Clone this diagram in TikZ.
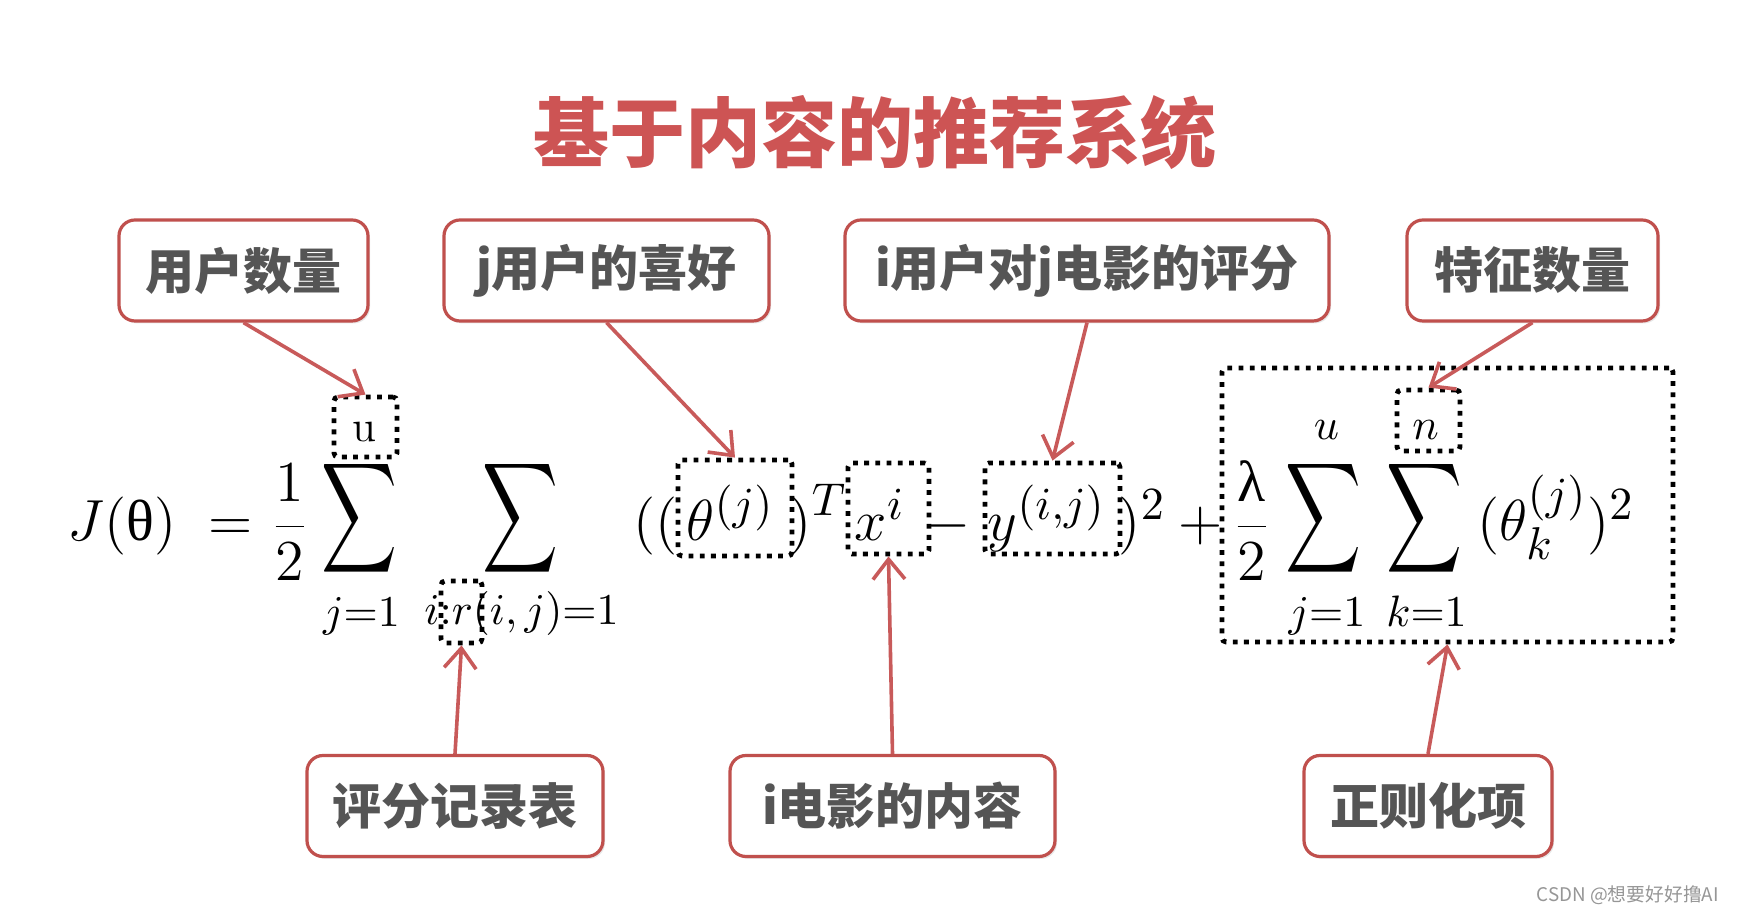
\RequirePackage{fix-cm}
\documentclass[tikz,border=0pt]{standalone}
\usepackage{graphicx}
\usepackage{fontspec}
\newfontfamily\cjk{Noto Sans CJK SC}
\newfontfamily\grk{Liberation Serif}
\usetikzlibrary{arrows.meta, shadows}
\DeclareMathSizes{14.5}{14.5}{11.5}{9}
\definecolor{titlered}{RGB}{205,84,84}
\definecolor{boxred}{RGB}{192,80,77}
\definecolor{arrowred}{RGB}{200,90,90}
\definecolor{labelgray}{RGB}{85,85,85}
\definecolor{markgray}{RGB}{150,150,150}

\begin{document}
\begin{tikzpicture}[x=0.25pt, y=-0.25pt,
    labelbox/.style={draw=boxred, line width=0.8pt, rounded corners=4pt, fill=white,
      drop shadow={shadow xshift=0.5pt, shadow yshift=-0.6pt, opacity=0.18},
      text=labelgray, font=\cjk\bfseries\fontsize{12.25}{14}\selectfont,
      minimum height=101*\px, inner xsep=2pt},
    dotbox/.style={draw, line width=1.2pt, dash pattern=on 1.2pt off 1.6pt, rounded corners=1pt, inner sep=0pt},
    pointer/.style={draw=arrowred, line width=0.9pt, -{Straight Barb[length=5pt,width=8pt]}},
    frm/.style={inner sep=0pt, font=\fontsize{14.5}{17}\selectfont},
    lim/.style={inner sep=0pt, font=\fontsize{11}{13}\selectfont}]
    % one pixel of the reference
    \def\px{0.25pt}
    % page
    \fill[white] (0,0) rectangle (1748,918);
    \useasboundingbox (0,0) rectangle (1748,918);
    % title
    \node[text=titlered, font=\cjk\bfseries\fontsize{19}{23}\selectfont] (title) at (875,133) {基于内容的推荐系统};
    % label boxes above and below the formula
    \foreach \nm/\cx/\bw/\txt in {users/243.5/249/用户数量, likes/606.5/325/j用户的喜好, score/1087/484/i用户对j电影的评分, feats/1532.5/251/特征数量}
        \node[labelbox, minimum width=\bw*\px] (\nm) at (\cx,270.5) {\txt};
    \foreach \nm/\cx/\bw/\txt in {record/455/296/评分记录表, movie/892.5/325/i电影的内容, reg/1428/248/正则化项}
        \node[labelbox, minimum width=\bw*\px] (\nm) at (\cx,806) {\txt};
    % formula, main line
    \node[frm, anchor=base west] (lhs) at (67,541) {$J(\mbox{\grk θ})\;=$};
    \node[frm, anchor=base west] (half) at (270,541) {$\displaystyle\frac{1}{2}$};
    \foreach \nm/\cx in {sumj/359, sumi/520, sumjj/1323, sumk/1424.5}
        \node[frm] (\nm) at (\cx,518.5) {\resizebox*{19pt}{30.75pt}{$\displaystyle\sum$}};
    \node[frm, anchor=base west] (open) at (633,541) {$(\bigl($};
    \node[frm, anchor=base west] (theta) at (686,541) {$\theta^{(j)}$};
    \node[frm, anchor=base west] (close) at (789,541) {$\bigr)^{T}$};
    \node[frm, anchor=base west] (xi) at (854,541) {$x^{i}$};
    \node[frm, anchor=base] (minus) at (948,541) {$-$};
    \node[frm, anchor=base west] (yij) at (987,541) {$y^{(i,j)}$};
    \node[frm, anchor=base west] (sq) at (1118,541) {$)^{2}+{}$};
    \node[frm, anchor=base west] (lam) at (1232,541) {$\displaystyle\frac{\mbox{\grk λ}}{2}$};
    \node[frm, anchor=base west] (thk) at (1477,541) {$(\theta_k^{(j)})^{2}$};
    % limits of the sums
    \node[lim, anchor=base] (uup) at (364,442) {$\mathrm{u}$};
    \node[lim, anchor=base] (jlow) at (361.5,627) {$j{=}1$};
    \node[lim, anchor=base] (ilow) at (521.5,625) {$i{:}r(i,j){=}1$};
    \node[lim, anchor=base] (uup2) at (1326.5,440) {$u$};
    \node[lim, anchor=base] (nup) at (1425.5,440) {$n$};
    \node[lim, anchor=base] (jlow2) at (1327,627) {$j{=}1$};
    \node[lim, anchor=base] (klow) at (1426.5,627) {$k{=}1$};
    % dotted marks
    \foreach \nm/\cx/\cy/\bw/\bh in {ubox/365.5/427/63/60, rbox/461.5/612/41/62, thbox/735/508/114/96, xbox/888.5/508.5/81/91, ybox/1052.5/508.5/135/91, regbox/1447.5/505/451/274, nbox/1428.5/420.5/63/61}
        \node[dotbox, minimum width=\bw*\px, minimum height=\bh*\px] (\nm) at (\cx,\cy) {};
    % arrows
    \foreach \src/\dst in {users/ubox, likes/thbox, score/ybox, feats/nbox}
        \draw[pointer] (\src.south) -- (\dst.north);
    \foreach \src/\dst in {record/rbox, movie/xbox, reg/regbox}
        \draw[pointer] (\src.north) -- (\dst.south);
    % watermark
    \node[anchor=east, text=markgray, font=\cjk\fontsize{4.7}{6}\selectfont] (mark) at (1733,895) {CSDN @想要好好撸AI};
\end{tikzpicture}
\end{document}
